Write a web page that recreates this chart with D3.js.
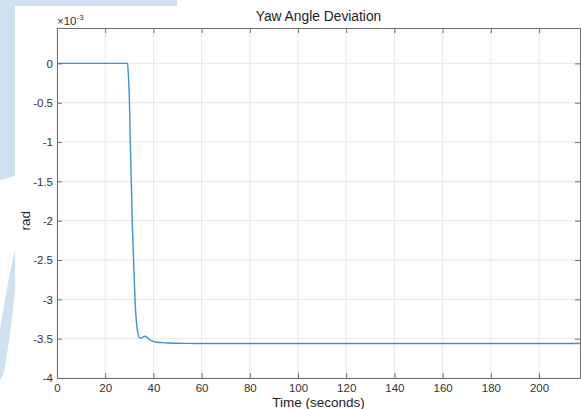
<!DOCTYPE html>
<html>
<head>
<meta charset="utf-8">
<script src="https://cdn.jsdelivr.net/npm/d3@7"></script>
<style>
  body { margin: 0; background: #fff; }
  svg { display: block; font-family: "Liberation Sans", Arial, sans-serif; }
</style>
</head>
<body>
<div id="chart"></div>
<script>
// yaw angle deviation, values in units of 1e-3 rad
const timeS = [0, 29.3, 29.6, 30.0, 30.4, 31.3, 32.0, 32.4, 33.0, 33.5, 34.3, 35.2, 36.3, 37.3, 38.7, 40, 41.5, 43.5, 46, 50, 55, 60, 80, 100, 120, 140, 160, 180, 200, 217];
const yawDev = [0, 0, -0.15, -0.42, -0.98, -2.09, -2.7, -3.02, -3.3, -3.42, -3.49, -3.49, -3.47, -3.48, -3.52, -3.535, -3.545, -3.55, -3.555, -3.558, -3.56, -3.562, -3.562, -3.562, -3.562, -3.562, -3.562, -3.562, -3.562, -3.562];
const xTicks = [0, 20, 40, 60, 80, 100, 120, 140, 160, 180, 200];
const yTicks = [0, -0.5, -1, -1.5, -2, -2.5, -3, -3.5, -4];

const data = timeS.map((t, i) => ({t: t, v: yawDev[i]}));

const W = 581, H = 409;
const margin = {top: 28, right: 1, bottom: 31, left: 57},
      width = W - margin.left - margin.right,
      height = H - margin.top - margin.bottom;

const root = d3.select("#chart")
    .append("svg")
    .attr("width", W)
    .attr("height", H);

// light blue watermark behind the figure
const wm = "#cfe0f0";
root.append("rect").attr("x", 0).attr("y", 0).attr("width", W).attr("height", H).attr("fill", "#fff");
root.append("path")
    .attr("d", "M0,0 L177,0 L177,6 L15,6 L15,176 L0,180 Z")
    .attr("fill", wm);
root.append("path")
    .attr("d", "M15,250 L15,290 C12,320 8,350 4,372 C2,378 0,380 0,380 L0,330 C4,305 9,275 15,250 Z")
    .attr("fill", wm);

const svg = root.append("g")
    .attr("transform", `translate(${margin.left},${margin.top})`);

const x = d3.scaleLinear()
    .domain([0, 217])
    .range([0, width]);

const y = d3.scaleLinear()
    .domain([-4, 0.45])
    .range([height, 0]);

// grid
svg.append("g")
    .selectAll("line")
    .data(xTicks)
    .enter()
    .append("line")
    .attr("x1", d => x(d)).attr("x2", d => x(d))
    .attr("y1", 0).attr("y2", height)
    .attr("stroke", "#e8e8e8");

svg.append("g")
    .selectAll("line")
    .data(yTicks)
    .enter()
    .append("line")
    .attr("x1", 0).attr("x2", width)
    .attr("y1", d => y(d)).attr("y2", d => y(d))
    .attr("stroke", "#e8e8e8");

// the line
const line = d3.line()
    .x(d => x(d.t))
    .y(d => y(d.v))
    .curve(d3.curveMonotoneX);

svg.append("path")
    .datum(data)
    .attr("d", line)
    .attr("fill", "none")
    .attr("stroke", "#3c93d5")
    .attr("stroke-width", 1.4);

// axes, MATLAB style with inward ticks on all four sides
const axisColor = "#6e6e6e";
function styleAxis(g) {
    g.select(".domain").attr("stroke", axisColor);
    g.selectAll(".tick line").attr("stroke", axisColor);
    g.selectAll(".tick text").attr("fill", "#333").style("font-size", "11.5px");
}

svg.append("g") /* X axis */
    .attr("transform", `translate(0,${height})`)
    .call(d3.axisBottom(x).tickValues(xTicks).tickSize(-5).tickSizeOuter(0).tickPadding(6))
    .call(styleAxis);

svg.append("g") /* top */
    .call(d3.axisTop(x).tickValues(xTicks).tickSize(-5).tickSizeOuter(0).tickFormat(""))
    .call(styleAxis);

svg.append("g") /* Y axis */
    .call(d3.axisLeft(y).tickValues(yTicks).tickSize(-5).tickSizeOuter(0).tickPadding(4).tickFormat(d => String(d)))
    .call(styleAxis);

svg.append("g") /* right */
    .attr("transform", `translate(${width},0)`)
    .call(d3.axisRight(y).tickValues(yTicks).tickSize(-5).tickSizeOuter(0).tickFormat(""))
    .call(styleAxis);

// exponent label
const expo = svg.append("text")
    .attr("x", 0)
    .attr("y", -3)
    .attr("fill", "#333")
    .style("font-size", "11.5px");
expo.append("tspan").text("\u00d710");
expo.append("tspan").attr("dy", -5).style("font-size", "8px").text("-3");

// Titles and labels
svg.append("text")
    .attr("x", width / 2)
    .attr("y", -7)
    .attr("text-anchor", "middle")
    .attr("fill", "#222")
    .style("font-size", "13.8px")
    .text("Yaw Angle Deviation");

svg.append("text")
    .attr("x", width / 2)
    .attr("y", height + 29)
    .attr("text-anchor", "middle")
    .attr("fill", "#222")
    .style("font-size", "13.5px")
    .text("Time (seconds)");

svg.append("text")
    .attr("transform", "rotate(-90)")
    .attr("x", -(y(-2) ))
    .attr("y", -27)
    .attr("text-anchor", "middle")
    .attr("fill", "#222")
    .style("font-size", "13.5px")
    .text("rad");
</script>
</body>
</html>
